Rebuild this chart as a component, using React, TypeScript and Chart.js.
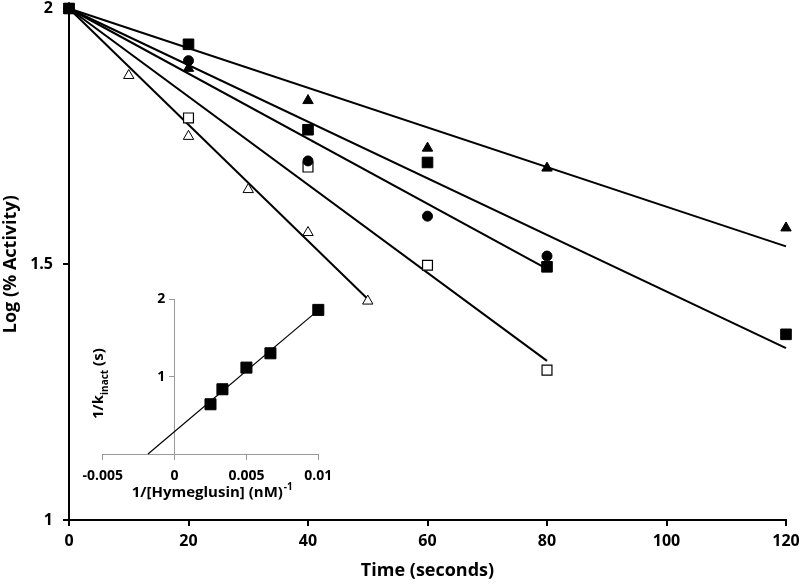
import React, { useEffect, useRef } from "react";
import { Chart, registerables } from "chart.js";

Chart.register(...registerables);

const FONT = "'Open Sans', 'DejaVu Sans', sans-serif";

// ---------- Main chart data ----------
const xTickValues = [0, 20, 40, 60, 80, 100, 120];
const xTickLabels = ["0", "20", "40", "60", "80", "100", "120"];
const yTickValues = [1, 1.5, 2];
const yTickLabels = ["1", "1.5", "2"];

const filledSquareT = [0, 20, 40, 60, 80, 120];
const filledSquareY = [2, 1.93, 1.763, 1.699, 1.495, 1.363];
const filledTriangleT = [0, 20, 40, 60, 80, 120];
const filledTriangleY = [2, 1.883, 1.82, 1.727, 1.688, 1.571];
const circleT = [0, 20, 40, 60, 80];
const circleY = [2, 1.898, 1.702, 1.594, 1.516];
const openSquareT = [0, 20, 40, 60, 80];
const openSquareY = [2, 1.786, 1.69, 1.498, 1.293];
const openTriangleT = [0, 10, 20, 30, 40, 50];
const openTriangleY = [2, 1.869, 1.75, 1.646, 1.562, 1.428];

// fitted lines: all start at (0, 2)
const fitStartT = 0;
const fitStartY = 2;
const fitEndT = [120, 120, 80, 80, 50];
const fitEndY = [1.535, 1.336, 1.491, 1.311, 1.432];

// ---------- Inset data ----------
const insetX = [0.0025, 0.00333, 0.005, 0.00667, 0.01];
const insetY = [0.643, 0.837, 1.117, 1.302, 1.863];
const insetLineX = [-0.00185, 0.01];
const insetLineY = [0, 1.86];
const insetXTickValues = [-0.005, 0, 0.005, 0.01];
const insetXTickLabels = ["-0.005", "0", "0.005", "0.01"];
const insetYTickValues = [0, 1, 2];
const insetYTickLabels = ["", "1", "2"];

const mainXTitle = "Time (seconds)";
const mainYTitle = "Log (% Activity)";
const insetXTitle = "1/[Hymeglusin] (nM)";
const insetXTitleSup = "-1";
const insetYTitleA = "1/k";
const insetYTitleSub = "inact";
const insetYTitleB = " (s)";

const pts = (xs: number[], ys: number[]) => xs.map((x, i) => ({ x, y: ys[i] }));

const insetTitles = {
  id: "insetTitles",
  afterDraw(chart: any) {
    const { ctx, chartArea } = chart;
    const big = `bold 15px ${FONT}`;
    const small = `bold 10px ${FONT}`;
    ctx.save();
    ctx.fillStyle = "#000";
    ctx.textAlign = "left";
    ctx.textBaseline = "alphabetic";
    // x title
    ctx.font = big;
    let x = chartArea.left + 29;
    const y = chartArea.bottom + 43;
    ctx.fillText(insetXTitle, x, y);
    x += ctx.measureText(insetXTitle).width + 1;
    ctx.font = small;
    ctx.fillText(insetXTitleSup, x, y - 7);
    // y title (rotated)
    ctx.font = big;
    const wA = ctx.measureText(insetYTitleA).width;
    const wB = ctx.measureText(insetYTitleB).width;
    ctx.font = small;
    const wS = ctx.measureText(insetYTitleSub).width;
    const total = wA + wS + wB;
    ctx.translate(chartArea.left - 4.7, (chartArea.top + chartArea.bottom) / 2 + 7);
    ctx.rotate(-Math.PI / 2);
    let tx = -total / 2;
    ctx.font = big;
    ctx.fillText(insetYTitleA, tx, 5.4);
    tx += wA;
    ctx.font = small;
    ctx.fillText(insetYTitleSub, tx, 9.5);
    tx += wS;
    ctx.font = big;
    ctx.fillText(insetYTitleB, tx, 5.4);
    ctx.restore();
  },
};

export default function App() {
  const mainRef = useRef<HTMLCanvasElement>(null);
  const insetRef = useRef<HTMLCanvasElement>(null);

  useEffect(() => {
    const markerSeries = [
      { t: filledSquareT, y: filledSquareY, style: "rect", fill: "#000", r: 7.5, bw: 1 },
      { t: filledTriangleT, y: filledTriangleY, style: "triangle", fill: "#000", r: 6, bw: 1 },
      { t: circleT, y: circleY, style: "circle", fill: "#000", r: 5, bw: 1 },
      { t: openSquareT, y: openSquareY, style: "rect", fill: "#fff", r: 7, bw: 1.2 },
      { t: openTriangleT, y: openTriangleY, style: "triangle", fill: "#fff", r: 6, bw: 1 },
    ];
    const datasets: any[] = markerSeries.map((s) => ({
      data: pts(s.t, s.y),
      pointStyle: s.style,
      pointRadius: s.r,
      pointBackgroundColor: s.fill,
      pointBorderColor: "#000",
      pointBorderWidth: s.bw,
      showLine: false,
      clip: false,
    }));
    fitEndT.forEach((t, i) => {
      datasets.push({
        data: [
          { x: fitStartT, y: fitStartY },
          { x: t, y: fitEndY[i] },
        ],
        showLine: true,
        borderColor: "#000",
        borderWidth: 2,
        pointRadius: 0,
        clip: false,
      });
    });

    const main = new Chart(mainRef.current!, {
      type: "scatter",
      data: { datasets },
      options: {
        animation: false,
        responsive: false,
        layout: { padding: { left: 0, right: 14, top: 8, bottom: 0 } },
        plugins: { legend: { display: false }, tooltip: { enabled: false } },
        scales: {
          x: {
            type: "linear",
            min: 0,
            max: 120,
            afterBuildTicks: (scale: any) => {
              scale.ticks = xTickValues.map((v) => ({ value: v }));
            },
            afterFit: (scale: any) => {
              scale.height = 64;
              scale.paddingRight = 0;
              scale.paddingLeft = 0;
            },
            ticks: {
              callback: (_v: any, i: number) => xTickLabels[i],
              font: { family: FONT, size: 16, weight: "bold" },
              color: "#000",
              padding: 6,
              maxRotation: 0,
            },
            grid: { drawOnChartArea: false, drawTicks: true, tickLength: 6, color: "#000", lineWidth: 2 },
            border: { display: true, color: "#000", width: 2 },
            title: {
              display: true,
              text: mainXTitle,
              font: { family: FONT, size: 18, weight: "bold" },
              color: "#000",
              padding: { top: 0, bottom: 2 },
            },
          },
          y: {
            type: "linear",
            min: 1,
            max: 2,
            afterBuildTicks: (scale: any) => {
              scale.ticks = yTickValues.map((v) => ({ value: v }));
            },
            afterFit: (scale: any) => {
              scale.width = 69;
              scale.paddingTop = 0;
              scale.paddingBottom = 0;
            },
            ticks: {
              callback: (_v: any, i: number) => yTickLabels[i],
              font: { family: FONT, size: 16, weight: "bold" },
              color: "#000",
              padding: 10,
            },
            grid: { drawOnChartArea: false, drawTicks: true, tickLength: 6, color: "#000", lineWidth: 2 },
            border: { display: true, color: "#000", width: 2 },
            title: {
              display: true,
              text: mainYTitle,
              font: { family: FONT, size: 18, weight: "bold" },
              color: "#000",
              padding: { top: 0, bottom: 0 },
            },
          },
        },
      },
    });

    const inset = new Chart(insetRef.current!, {
      type: "scatter",
      data: {
        datasets: [
          {
            data: pts(insetX, insetY),
            pointStyle: "rect",
            pointRadius: 7.8,
            pointBackgroundColor: "#000",
            pointBorderColor: "#000",
            pointBorderWidth: 1,
            showLine: false,
            clip: false,
          } as any,
          {
            data: pts(insetLineX, insetLineY),
            showLine: true,
            borderColor: "#000",
            borderWidth: 1.2,
            pointRadius: 0,
            clip: false,
          } as any,
        ],
      },
      options: {
        animation: false,
        responsive: false,
        layout: { padding: { left: 42.7, right: 31.7, top: 19.3, bottom: 56 } },
        plugins: { legend: { display: false }, tooltip: { enabled: false } },
        scales: {
          x: {
            type: "linear",
            position: { y: 0 } as any,
            min: -0.005,
            max: 0.01,
            afterBuildTicks: (scale: any) => {
              scale.ticks = insetXTickValues.map((v) => ({ value: v }));
            },
            afterFit: (scale: any) => {
              scale.paddingLeft = 0;
              scale.paddingRight = 0;
            },
            ticks: {
              callback: (_v: any, i: number) => insetXTickLabels[i],
              font: { family: FONT, size: 14, weight: "bold" },
              color: "#000",
              padding: 9,
              maxRotation: 0,
            },
            grid: { drawOnChartArea: false, drawTicks: true, tickLength: 5, color: "#999", lineWidth: 1 },
            border: { display: true, color: "#999", width: 1 },
          },
          y: {
            type: "linear",
            position: { x: 0 } as any,
            min: 0,
            max: 2,
            afterBuildTicks: (scale: any) => {
              scale.ticks = insetYTickValues.map((v) => ({ value: v }));
            },
            afterFit: (scale: any) => {
              scale.paddingTop = 0;
              scale.paddingBottom = 0;
            },
            ticks: {
              callback: (_v: any, i: number) =>
                insetYTickLabels[i] ? insetYTickLabels[i] + "\u2002\u2009" : "",
              font: { family: FONT, size: 14, weight: "bold" },
              color: "#000",
              padding: 8,
            },
            grid: { drawOnChartArea: false, drawTicks: true, tickLength: 5, color: "#999", lineWidth: 1 },
            border: { display: true, color: "#999", width: 1 },
          },
        },
      },
      plugins: [insetTitles],
    });

    return () => {
      main.destroy();
      inset.destroy();
    };
  }, []);

  return (
    <div style={{ position: "absolute", left: 0, top: 0, width: 800, height: 584, background: "#fff" }}>
      <canvas ref={mainRef} width={800} height={584} style={{ position: "absolute", left: 0, top: 0 }} />
      <canvas
        ref={insetRef}
        width={290}
        height={230}
        style={{ position: "absolute", left: 60, top: 280 }}
      />
    </div>
  );
}
